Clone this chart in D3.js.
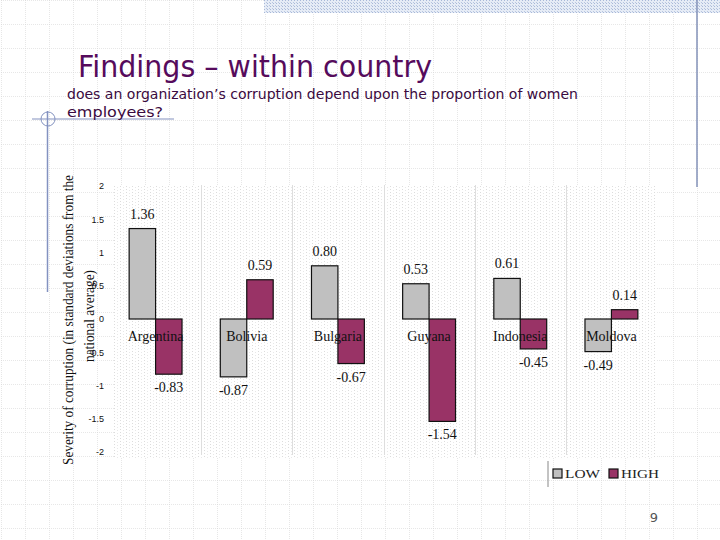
<!DOCTYPE html>
<html>
<head>
<meta charset="utf-8">
<script src="https://cdn.jsdelivr.net/npm/d3@7"></script>
<style>
  html, body { margin: 0; padding: 0; background: #fff; }
  svg { display: block; }
</style>
</head>
<body>
<svg id="c" width="720" height="540"></svg>
<script>
// ---- data ----
const categories = ["Argentina", "Bolivia", "Bulgaria", "Guyana", "Indonesia", "Moldova"];
const seriesNames = ["LOW", "HIGH"];
const lowValues = [1.36, -0.87, 0.80, 0.53, 0.61, -0.49];
const highValues = [-0.83, 0.59, -0.67, -1.54, -0.45, 0.14];
const yTicks = [2, 1.5, 1, 0.5, 0, -0.5, -1, -1.5, -2];
const titleText = "Findings \u2013 within country";
const subtitleLines = ["does an organization\u2019s corruption depend upon the proportion of women", "employees?"];
const yTitleLines = ["Severity of corruption (in standard deviations from the", "national average)"];
const pageNumber = "9";

const colors = { LOW: "#c0c0c0", HIGH: "#993366" };

const svg = d3.select("#c");
const defs = svg.append("defs");

// slide grid pattern
const gp = defs.append("pattern").attr("id", "slidegrid").attr("patternUnits", "userSpaceOnUse")
  .attr("width", 24).attr("height", 24).attr("x", 1).attr("y", 0);
gp.append("line").attr("x1", 0).attr("y1", 0).attr("x2", 0).attr("y2", 24)
  .attr("stroke", "#cfcfcf").attr("stroke-width", 1).attr("stroke-dasharray", "1,1");
gp.append("line").attr("x1", 0).attr("y1", 0).attr("x2", 24).attr("y2", 0)
  .attr("stroke", "#cfcfcf").attr("stroke-width", 1).attr("stroke-dasharray", "1,1");

// hatch for top band
const hp = defs.append("pattern").attr("id", "hatch").attr("patternUnits", "userSpaceOnUse")
  .attr("width", 3).attr("height", 3);
hp.append("rect").attr("width", 3).attr("height", 3).attr("fill", "#e6ecf6");
hp.append("rect").attr("width", 1).attr("height", 1).attr("fill", "#a8b8d8");
hp.append("rect").attr("x", 2).attr("y", 2).attr("width", 1).attr("height", 1).attr("fill", "#b8c6e0");

// plot texture
const tp = defs.append("pattern").attr("id", "tex").attr("patternUnits", "userSpaceOnUse")
  .attr("width", 6).attr("height", 3);
tp.append("rect").attr("width", 1).attr("height", 1).attr("fill", "#dcdcdc");
tp.append("rect").attr("x", 3).attr("y", 1).attr("width", 1).attr("height", 1).attr("fill", "#e8e8e8");

svg.append("rect").attr("width", 720).attr("height", 540).attr("fill", "#fff");
svg.append("rect").attr("width", 720).attr("height", 540).attr("fill", "url(#slidegrid)");

// top band and decorations
svg.append("rect").attr("x", 264).attr("y", 0).attr("width", 456).attr("height", 13).attr("fill", "url(#hatch)");
svg.append("line").attr("x1", 697).attr("y1", 0).attr("x2", 697).attr("y2", 187)
  .attr("stroke", "#8392b8").attr("stroke-width", 1.5);
svg.append("line").attr("x1", 47.5).attr("y1", 111).attr("x2", 47.5).attr("y2", 292)
  .attr("stroke", "#8392c0").attr("stroke-width", 1.5);
svg.append("line").attr("x1", 32).attr("y1", 119).attr("x2", 174).attr("y2", 119)
  .attr("stroke", "#8392c0").attr("stroke-width", 1.2);
svg.append("circle").attr("cx", 48).attr("cy", 119).attr("r", 7)
  .attr("fill", "none").attr("stroke", "#8392c0").attr("stroke-width", 1);

// title
svg.append("text").attr("x", 78).attr("y", 77).text(titleText)
  .attr("font-family", "Verdana, 'DejaVu Sans', sans-serif").attr("font-size", 30)
  .attr("fill", "#560b5c").attr("textLength", 354).attr("lengthAdjust", "spacingAndGlyphs");
svg.selectAll("text.sub").data(subtitleLines).join("text").attr("class", "sub")
  .attr("x", 67).attr("y", (d, i) => 99 + i * 18).text(d => d)
  .attr("font-family", "'DejaVu Sans', sans-serif").attr("font-size", 14.5)
  .attr("fill", "#3a0a40")
  .each(function(d, i) {
    d3.select(this).attr("textLength", i === 0 ? 511 : 96).attr("lengthAdjust", "spacingAndGlyphs");
  });

// chart
const plot = { left: 110, right: 657, top: 185, bottom: 458 };
svg.append("rect").attr("x", 114).attr("y", plot.top).attr("width", plot.right - 114).attr("height", plot.bottom - plot.top)
  .attr("fill", "#fff");
svg.append("rect").attr("x", 114).attr("y", plot.top).attr("width", plot.right - 114).attr("height", plot.bottom - plot.top)
  .attr("fill", "url(#tex)");

const x = d3.scaleBand().domain(categories).range([plot.left, plot.right]).paddingInner(0).paddingOuter(0);
const xs = d3.scaleBand().domain(seriesNames).range([0, x.bandwidth()]).paddingInner(0).paddingOuter(0.724);
const y = d3.scaleLinear().domain([-2, 2]).range([452, 186]);

// group separators
svg.selectAll("line.sep").data(categories.slice(1)).join("line").attr("class", "sep")
  .attr("x1", d => Math.round(x(d)) + 0.5).attr("x2", d => Math.round(x(d)) + 0.5)
  .attr("y1", plot.top).attr("y2", 455).attr("stroke", "#dedede").attr("stroke-width", 1);

// y axis
const yAxis = d3.axisLeft(y).tickValues(yTicks).tickSize(0).tickPadding(0)
  .tickFormat(d => String(d));
const gy = svg.append("g").attr("transform", "translate(104,0)").call(yAxis);
gy.select(".domain").remove();
gy.selectAll("text").attr("font-family", "'Liberation Sans', Arial, sans-serif").attr("font-size", 9)
  .attr("fill", "#111");

// data rows
const rows = [];
categories.forEach((c, i) => {
  rows.push({ cat: c, s: "LOW", v: lowValues[i] });
  rows.push({ cat: c, s: "HIGH", v: highValues[i] });
});

svg.selectAll("rect.bar").data(rows).join("rect").attr("class", "bar")
  .attr("x", d => x(d.cat) + xs(d.s))
  .attr("width", xs.bandwidth())
  .attr("y", d => y(Math.max(0, d.v)))
  .attr("height", d => Math.abs(y(d.v) - y(0)))
  .attr("fill", d => colors[d.s]).attr("stroke", "#111").attr("stroke-width", 1.2);

// value labels
svg.selectAll("text.val").data(rows).join("text").attr("class", "val")
  .attr("x", d => x(d.cat) + xs(d.s) + xs.bandwidth() / 2)
  .attr("y", d => d.v >= 0 ? y(d.v) - 10 : y(d.v) + 18)
  .attr("text-anchor", "middle")
  .attr("font-family", "'Liberation Serif', 'Times New Roman', serif").attr("font-size", 14)
  .attr("fill", "#111")
  .text(d => d.v.toFixed(2));

// category labels
svg.selectAll("text.cat").data(categories).join("text").attr("class", "cat")
  .attr("x", d => x(d) + x.bandwidth() / 2).attr("y", 341)
  .attr("text-anchor", "middle")
  .attr("font-family", "'Liberation Serif', 'Times New Roman', serif").attr("font-size", 14)
  .attr("fill", "#111").text(d => d);

// y title
const yt = svg.append("g");
yt.selectAll("text").data(yTitleLines).join("text")
  .attr("transform", (d, i) => `translate(${73 + i * 21},${i === 0 ? 320 : 316}) rotate(-90)`)
  .attr("text-anchor", "middle")
  .attr("font-family", "'Liberation Serif', 'Times New Roman', serif").attr("font-size", 15.5)
  .attr("fill", "#111").text(d => d)
  .each(function(d, i) {
    d3.select(this).attr("textLength", i === 0 ? 290 : 92).attr("lengthAdjust", "spacingAndGlyphs");
  });

// legend
svg.append("line").attr("x1", 548).attr("x2", 548).attr("y1", 461).attr("y2", 487)
  .attr("stroke", "#888").attr("stroke-width", 1);
const legendX = { LOW: 553, HIGH: 609 };
const lg = svg.selectAll("g.leg").data(seriesNames).join("g").attr("class", "leg")
  .attr("transform", d => `translate(${legendX[d]},469)`);
lg.append("rect").attr("width", 9).attr("height", 9).attr("fill", d => colors[d])
  .attr("stroke", "#111").attr("stroke-width", 1.2);
lg.append("text").attr("x", 12).attr("y", 9).text(d => d)
  .attr("font-family", "'Liberation Serif', 'Times New Roman', serif").attr("font-size", 13)
  .attr("fill", "#222")
  .attr("textLength", d => d === "LOW" ? 35 : 38).attr("lengthAdjust", "spacingAndGlyphs");

// page number
svg.append("text").attr("x", 654).attr("y", 522).attr("text-anchor", "middle").text(pageNumber)
  .attr("font-family", "Verdana, 'DejaVu Sans', sans-serif").attr("font-size", 13).attr("fill", "#555");
</script>
</body>
</html>
